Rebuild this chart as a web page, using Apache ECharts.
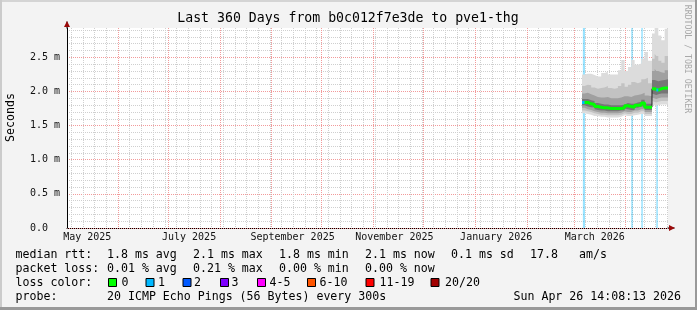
<!DOCTYPE html>
<html><head><meta charset="utf-8">
<script src="https://cdn.jsdelivr.net/npm/echarts@6/dist/echarts.min.js"></script>
<style>html,body{margin:0;padding:0;background:#f3f3f3}#c{width:697px;height:310px}</style>
</head><body><div id="c"></div>
<script>
// ---------- time frame ----------
const START = Date.UTC(2025, 4, 1, 14, 8, 13);   // 360 days before Sun Apr 26 14:08:13 2026
const SPAN_DAYS = 360;
const DAY = 86400000;

// ---------- tick labels / grid dates ----------
const xLabelTexts  = ['May 2025', 'July 2025', 'September 2025', 'November 2025', 'January 2026', 'March 2026'];
const xLabelMonths = ['2025-05-01', '2025-07-01', '2025-09-01', '2025-11-01', '2026-01-01', '2026-03-01'];
const monthGridDates = ['2025-06-01', '2025-07-01', '2025-08-01', '2025-09-01', '2025-10-01', '2025-11-01',
                        '2025-12-01', '2026-01-01', '2026-02-01', '2026-03-01', '2026-04-01'];
const firstSunday = '2025-05-04';
const yMax = 2.93;            // ms
const yMajorStep = 0.5;
const yMinorStep = 0.1;

// ---------- data (days since START, values in ms) ----------
const days   = [308.5, 310, 312, 314, 316, 318, 320, 322, 324, 326, 328, 330, 332, 334, 336, 338, 340, 342, 344, 346, 348,
                350.4, 352, 353, 354.2, 356, 358, 360];
const median = [1.84, 1.84, 1.82, 1.81, 1.78, 1.77, 1.76, 1.76, 1.75, 1.75, 1.75, 1.75, 1.76, 1.79, 1.78, 1.77, 1.80, 1.80, 1.83, 1.77, 1.77,
                2.04, 2.04, 2.02, 2.04, 2.05, 2.05, 2.05];
const pingMax = [2.25, 2.26, 2.26, 2.24, 2.22, 2.22, 2.27, 2.29, 2.25, 2.25, 2.25, 2.31, 2.46, 2.30, 2.36, 2.46, 2.39, 2.41, 2.48, 2.58, 2.45,
                 2.85, 2.93, 2.93, 2.82, 2.75, 2.92, 2.92];
const upper3 = [2.08, 2.10, 2.09, 2.06, 2.04, 2.05, 2.06, 2.08, 2.05, 2.04, 2.05, 2.08, 2.12, 2.07, 2.10, 2.14, 2.12, 2.14, 2.18, 2.20, 2.12,
                2.48, 2.55, 2.52, 2.45, 2.42, 2.52, 2.52];
const upper2 = [1.97, 1.98, 1.96, 1.94, 1.92, 1.91, 1.91, 1.92, 1.90, 1.90, 1.90, 1.91, 1.93, 1.93, 1.92, 1.94, 1.95, 1.96, 1.98, 1.94, 1.93,
                2.30, 2.33, 2.30, 2.28, 2.27, 2.31, 2.31];
const upper1 = [1.89, 1.89, 1.87, 1.86, 1.83, 1.82, 1.81, 1.81, 1.80, 1.80, 1.80, 1.80, 1.81, 1.83, 1.82, 1.82, 1.84, 1.85, 1.88, 1.82, 1.82,
                2.17, 2.17, 2.15, 2.16, 2.17, 2.18, 2.18];
const lower1 = [1.80, 1.80, 1.78, 1.77, 1.74, 1.73, 1.72, 1.72, 1.71, 1.71, 1.71, 1.71, 1.72, 1.75, 1.74, 1.73, 1.76, 1.76, 1.78, 1.73, 1.73,
                1.97, 1.97, 1.95, 1.96, 1.97, 1.97, 1.97];
const lower2 = [1.76, 1.76, 1.74, 1.73, 1.71, 1.70, 1.69, 1.69, 1.68, 1.68, 1.68, 1.68, 1.69, 1.71, 1.70, 1.70, 1.72, 1.72, 1.74, 1.70, 1.70,
                1.91, 1.91, 1.89, 1.90, 1.91, 1.91, 1.91];
const lower3 = [1.72, 1.72, 1.71, 1.70, 1.68, 1.67, 1.66, 1.66, 1.65, 1.65, 1.65, 1.65, 1.66, 1.68, 1.67, 1.67, 1.69, 1.69, 1.71, 1.67, 1.67,
                1.86, 1.86, 1.84, 1.85, 1.86, 1.86, 1.86];
const pingMin = [1.68, 1.68, 1.67, 1.66, 1.64, 1.64, 1.63, 1.63, 1.62, 1.62, 1.62, 1.62, 1.63, 1.65, 1.64, 1.64, 1.65, 1.66, 1.67, 1.64, 1.64,
                 1.81, 1.81, 1.79, 1.80, 1.81, 1.81, 1.81];
const lossStartDays = [309.0, 338.0, 344.0, 353.0];
const lossEndDays   = [310.3, 338.9, 344.9, 353.9];
const medianLossRanges = [[308.5, 310], [353, 354.2]];   // median drawn in the "1 lost" colour

// ---------- legend texts ----------
const titleText = 'Last 360 Days from b0c012f7e3de to pve1-thg';
const rttTexts  = ['median rtt:', '1.8 ms avg', '2.1 ms max', '1.8 ms min', '2.1 ms now', '0.1 ms sd', '17.8', 'am/s'];
const lossTexts = ['packet loss:', '0.01 % avg', '0.21 % max', '0.00 % min', '0.00 % now'];
const lossColorLabels = ['0', '1', '2', '3', '4-5', '6-10', '11-19', '20/20'];
const lossColors = ['#00ff00', '#00b8ff', '#0059ff', '#7e00ff', '#ff00ff', '#ff5500', '#ff0000', '#a10000'];
const probeTexts = ['probe:', '20 ICMP Echo Pings (56 Bytes) every 300s'];
const dateText = 'Sun Apr 26 14:08:13 2026';

// ---------- helpers ----------
const ts = d => START + d * DAY;
function dateTs(s) {
  const p = s.split('-').map(Number);
  return Date.UTC(p[0], p[1] - 1, p[2]);
}
const END = ts(SPAN_DAYS);
const LABEL_SHIFT = 12.7; // rrdtool centres month labels inside the period
const labelDays = xLabelMonths.map(s => (dateTs(s) - START) / DAY + LABEL_SHIFT);
const monthTs = monthGridDates.map(dateTs);
const weekTs = [];
for (let t = dateTs(firstSunday); t <= END; t += 7 * DAY) weekTs.push(t);

const pairs = arr => days.map((d, i) => [ts(d), arr[i]]);
const diffPairs = (hi, lo) => days.map((d, i) => [ts(d), +(hi[i] - lo[i]).toFixed(4)]);

function medianAt(d) {
  let v = median[0];
  for (let i = 0; i < days.length; i++) if (days[i] <= d) v = median[i];
  return v;
}
// green median, broken at the big level change
const greenData = [];
for (let i = 0; i < days.length; i++) {
  if (i > 0 && Math.abs(median[i] - median[i - 1]) > 0.15) {
    greenData.push([ts(days[i]), median[i - 1]]);
    greenData.push([ts(days[i]), null]);
  }
  greenData.push([ts(days[i]), median[i]]);
}
const cyanData = [];
medianLossRanges.forEach((r, k) => {
  if (k > 0) cyanData.push([ts(r[0]), null]);
  cyanData.push([ts(r[0]), medianAt(r[0])]);
  cyanData.push([ts(r[1]), medianAt(r[0])]);
});

const bands = [
  { lo: pingMin, hi: pingMax, color: '#dcdcdc' },
  { lo: lower3, hi: upper3, color: '#c2c2c2' },
  { lo: lower2, hi: upper2, color: '#a0a0a0' },
  { lo: lower1, hi: upper1, color: '#767676' }
];

function vGrid(values, color, z) {
  return {
    type: 'custom', xAxisIndex: 0, yAxisIndex: 0, silent: true, animation: false, z: z, clip: false,
    data: values.map(v => [v, 0]),
    encode: { x: 0, y: 1 },
    renderItem: function (params, api) {
      const cs = params.coordSys;
      const x = Math.round(api.coord([api.value(0), 0])[0]) + 0.5;
      if (x < cs.x || x > cs.x + cs.width + 0.6) return null;
      return {
        type: 'line', silent: true,
        shape: { x1: x, y1: cs.y, x2: x, y2: cs.y + cs.height },
        style: { stroke: color, lineWidth: 1, lineDash: [1, 1] }
      };
    }
  };
}

const series = [];
series.push(vGrid(weekTs, '#cfcfcf', 1));
series.push(vGrid(monthTs, '#f29a9a', 1));
// loss background (empty carrier series)
series.push({
  type: 'line', data: [], silent: true, animation: false,
  markArea: {
    silent: true, z: 1.5,
    itemStyle: { color: 'rgba(0,184,255,0.4)' },
    data: lossStartDays.map((s, i) => [{ xAxis: ts(s) }, { xAxis: ts(lossEndDays[i]) }])
  }
});
bands.forEach((b, k) => {
  series.push({
    type: 'line', stack: 'band' + k, step: 'end', symbol: 'none', silent: true, animation: false, z: 2,
    data: pairs(b.lo), lineStyle: { width: 0, opacity: 0 }
  });
  series.push({
    type: 'line', stack: 'band' + k, step: 'end', symbol: 'none', silent: true, animation: false, z: 2,
    data: diffPairs(b.hi, b.lo), lineStyle: { width: 0, opacity: 0 },
    areaStyle: { color: b.color, opacity: 1 }
  });
});
series.push({
  type: 'line', step: 'end', symbol: 'none', silent: true, animation: false, z: 3,
  data: pairs(median), lineStyle: { color: '#202020', width: 1 }
});
series.push({
  type: 'line', step: 'end', symbol: 'none', silent: true, animation: false, z: 4, connectNulls: false,
  data: greenData, lineStyle: { color: lossColors[0], width: 3 }
});
series.push({
  type: 'line', symbol: 'none', silent: true, animation: false, z: 5, connectNulls: false,
  data: cyanData, lineStyle: { color: lossColors[1], width: 3 }
});

// ---------- graphics (texts / frame) ----------
const MONO = '"DejaVu Sans Mono", monospace';
function txt(x, y, text, size, opt) {
  opt = opt || {};
  return {
    type: 'text', x: x, y: y, rotation: opt.rotation || 0, silent: true, z: 100,
    style: {
      text: text, fill: opt.fill || '#000', font: size + 'px ' + MONO,
      textAlign: opt.align || 'left', align: opt.align || 'left',
      textVerticalAlign: 'middle', verticalAlign: 'middle'
    }
  };
}
const graphics = [
  { type: 'rect', shape: { x: 0, y: 0, width: 697, height: 2 }, style: { fill: '#d4d4d4' }, silent: true },
  { type: 'rect', shape: { x: 0, y: 0, width: 2, height: 310 }, style: { fill: '#cbcbcb' }, silent: true },
  { type: 'rect', shape: { x: 0, y: 307, width: 697, height: 3 }, style: { fill: '#999999' }, silent: true },
  { type: 'rect', shape: { x: 695, y: 0, width: 2, height: 310 }, style: { fill: '#999999' }, silent: true },
  txt(348, 19, titleText, 13.2, { align: 'center' }),
  txt(10.5, 117.5, 'Seconds', 11.6, { align: 'center', rotation: Math.PI / 2 }),
  txt(687, 59, 'RRDTOOL / TOBI OETIKER', 8.2, { align: 'center', rotation: -Math.PI / 2, fill: '#a8a8a8' })
];
const rttX = [15.5, 107, 193, 279, 365, 451, 530, 579];
rttTexts.forEach((t, i) => graphics.push(txt(rttX[i], 254.5, t, 11.6)));
lossTexts.forEach((t, i) => graphics.push(txt(rttX[i], 268.5, t, 11.6)));
graphics.push(txt(15.5, 282.5, 'loss color:', 11.6));
const boxX = [108, 145.5, 182.5, 220, 257, 307, 365.5, 430.5];
const boxLabelX = [121.5, 158, 194, 231.5, 269.5, 319.5, 379.5, 445];
lossColorLabels.forEach((t, i) => {
  graphics.push({ type: 'rect', shape: { x: boxX[i] + 0.5, y: 278.5, width: 8, height: 8 },
    style: { fill: lossColors[i], stroke: '#000', lineWidth: 1 }, silent: true, z: 100 });
  graphics.push(txt(boxLabelX[i], 282.5, t, 11.6));
});
graphics.push(txt(15.5, 296.5, probeTexts[0], 11.6));
graphics.push(txt(107, 296.5, probeTexts[1], 11.6));
graphics.push(txt(681, 296.5, dateText, 11.6, { align: 'right' }));

// ---------- chart ----------
const chart = echarts.init(document.getElementById('c'), null, { renderer: 'canvas' });
const baseY = { type: 'value', min: 0, max: yMax, position: 'left', gridIndex: 0 };
chart.setOption({
  animation: false,
  backgroundColor: '#f3f3f3',
  grid: { left: 67, top: 28, width: 601, height: 200, show: true, backgroundColor: '#ffffff', borderWidth: 0 },
  xAxis: [
    {
      type: 'time', min: START, max: END, position: 'bottom', gridIndex: 0,
      axisLine: { show: true, lineStyle: { color: '#000', width: 1 }, symbol: ['none', 'rect'], symbolSize: [1, 7], symbolOffset: [0, 3] },
      axisTick: { show: false },
      splitLine: { show: false },
      axisLabel: { show: false }
    },
    {
      type: 'value', min: 0, max: SPAN_DAYS, position: 'bottom', gridIndex: 0, z: 5,
      axisLine: { show: true, lineStyle: { color: '#9b0a0a', opacity: 0 }, symbol: ['none', 'triangle'], symbolSize: [6, 6], symbolOffset: [0, 4] },
      axisTick: { show: false }, splitLine: { show: false },
      axisLabel: {
        show: true, customValues: labelDays, margin: 4, color: '#111',
        fontFamily: MONO, fontSize: 10, hideOverlap: false,
        formatter: function (v) {
          let best = 0, bd = 1e18;
          labelDays.forEach((lv, i) => { const dd = Math.abs(lv - v); if (dd < bd) { bd = dd; best = i; } });
          return bd < 0.5 ? xLabelTexts[best] : '';
        }
      }
    }
  ],
  yAxis: [
    Object.assign({}, baseY, {
      interval: yMajorStep, z: 1,
      axisLine: { show: true, lineStyle: { color: '#000', width: 1 }, symbol: ['none', 'rect'], symbolSize: [1, 7], symbolOffset: [0, 3] },
      axisTick: { show: false },
      axisLabel: {
        show: true, margin: 7, color: '#111', fontFamily: MONO, fontSize: 10, showMaxLabel: false,
        formatter: v => (Math.abs(v) < 1e-9 ? '0.0  ' : v.toFixed(1) + ' m')
      },
      splitLine: { show: true, showMaxLine: false, lineStyle: { color: '#f29a9a', width: 1, type: [1, 1] } }
    }),
    Object.assign({}, baseY, {
      interval: yMinorStep, z: 0,
      axisLine: { show: false }, axisTick: { show: false }, axisLabel: { show: false },
      splitLine: { show: true, showMaxLine: false, lineStyle: { color: '#cfcfcf', width: 1, type: [1, 1] } }
    }),
    Object.assign({}, baseY, {
      z: 5,
      axisLine: { show: true, lineStyle: { color: '#9b0a0a', opacity: 0 }, symbol: ['none', 'triangle'], symbolSize: [6, 6], symbolOffset: [0, 4] },
      axisTick: { show: false }, axisLabel: { show: false }, splitLine: { show: false }
    })
  ],
  series: series,
  graphic: graphics
});
</script>
</body></html>
